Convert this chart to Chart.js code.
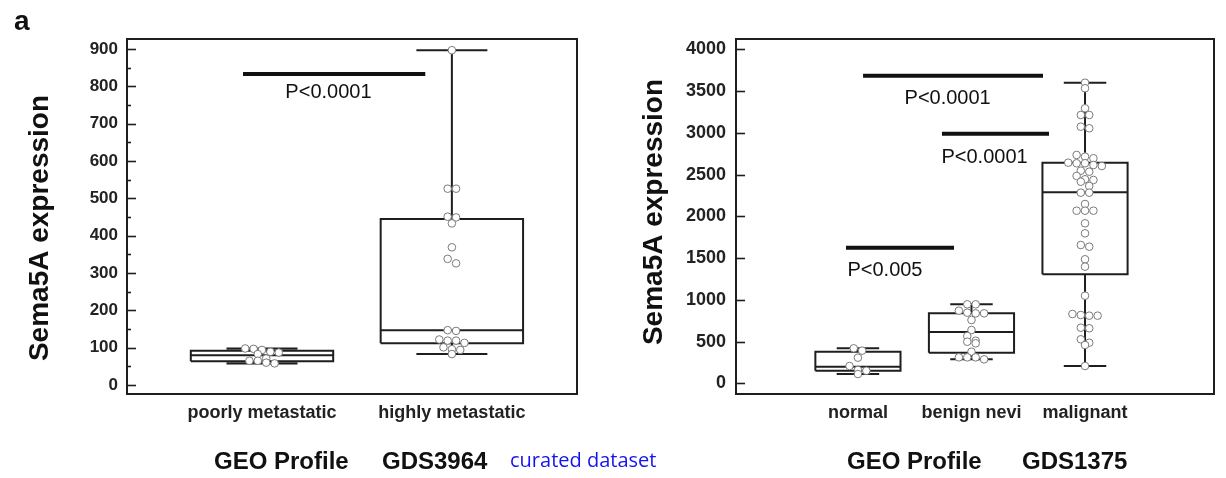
<!DOCTYPE html>
<html>
<head>
<meta charset="utf-8">
<script src="https://cdn.jsdelivr.net/npm/chart.js@4.4.1/dist/chart.umd.min.js"></script>
<style>
  html, body { margin: 0; padding: 0; background: #fff; }
  #wrap { position: relative; width: 1226px; height: 478px; overflow: hidden; }
  canvas { position: absolute; left: 0; top: 0; }
</style>
</head>
<body>
<div id="wrap">
  <canvas id="left" width="1226" height="478"></canvas>
  <canvas id="right" width="1226" height="478"></canvas>
</div>
<script>
// --- Daten links (GDS3964) ---
const leftCats = ["poorly metastatic", "highly metastatic"];
const poorlyValues = [98, 97, 94, 89, 87, 83, 71, 65, 65, 60, 58];
const highlyValues = [897, 526, 526, 451, 449, 433, 369, 338, 326, 147, 145, 122, 119, 119, 113, 101, 96, 94, 83];
const leftMin = [58, 83];
const leftQ1 = [64, 112];
const leftMedian = [80, 147];
const leftQ3 = [92, 445];
const leftMax = [98, 897];
const leftYTicks = [0, 100, 200, 300, 400, 500, 600, 700, 800, 900];
const leftYMinor = [50, 150, 250, 350, 450, 550, 650, 750, 850];
const leftSigFrom = [-0.10];
const leftSigTo = [0.86];
const leftSigY = [833];
const leftSigText = ["P<0.0001"];
const leftSigTextX = [0.35];
const leftSigTextY = [783];

// --- Daten rechts (GDS1375) ---
const rightCats = ["normal", "benign nevi", "malignant"];
const normalValues = [419, 391, 307, 207, 160, 150, 111];
const benignValues = [946, 946, 870, 846, 838, 838, 758, 638, 566, 510, 498, 479, 378, 311, 311, 311, 287];
const malignantValues = [3600, 3533, 3293, 3213, 3213, 3073, 3054, 2734, 2714, 2695, 2642, 2635, 2635, 2614, 2602,
  2546, 2534, 2483, 2443, 2435, 2414, 2363, 2283, 2283, 2147, 2067, 2067, 2067, 1916, 1796, 1656, 1636,
  1485, 1397, 1049, 830, 818, 810, 810, 666, 659, 527, 486, 459, 207];
const rightMin = [111, 287, 207];
const rightQ1 = [151, 367, 1305];
const rightMedian = [199, 614, 2287];
const rightQ3 = [377, 838, 2642];
const rightMax = [419, 946, 3600];
const rightYTicks = [0, 500, 1000, 1500, 2000, 2500, 3000, 3500, 4000];
const rightSigFrom = [0.045, 0.74, -0.105];
const rightSigTo = [1.63, 1.683, 0.846];
const rightSigY = [3684, 2989, 1624];
const rightSigText = ["P<0.0001", "P<0.0001", "P<0.005"];
const rightSigTextX = [0.79, 1.115, 0.238];
const rightSigTextY = [3405, 2710, 1357];

const FONT = 'Arial, "Liberation Sans", Helvetica, sans-serif';
const INK = "#1e1e1e";
const BOX_HALF = 0.375;   // halbe Boxbreite (x-Einheiten)
const CAP_HALF = 0.187;   // halbe Whisker-Kappe
const SWARM_STEP = 8.4;   // px zwischen Punkten einer Reihe
const SWARM_BIN = 5;      // px Höhe einer Reihe

Chart.defaults.font.family = FONT;

function boxPoints(min, q1, med, q3, max) {
  const pts = [];
  min.forEach((_, i) => {
    const gap = { x: i, y: null };
    pts.push(
      { x: i - BOX_HALF, y: q1[i] }, { x: i + BOX_HALF, y: q1[i] }, { x: i + BOX_HALF, y: q3[i] },
      { x: i - BOX_HALF, y: q3[i] }, { x: i - BOX_HALF, y: q1[i] }, gap,
      { x: i - BOX_HALF, y: med[i] }, { x: i + BOX_HALF, y: med[i] }, gap,
      { x: i, y: q3[i] }, { x: i, y: max[i] }, gap,
      { x: i - CAP_HALF, y: max[i] }, { x: i + CAP_HALF, y: max[i] }, gap,
      { x: i, y: q1[i] }, { x: i, y: min[i] }, gap,
      { x: i - CAP_HALF, y: min[i] }, { x: i + CAP_HALF, y: min[i] }, gap
    );
  });
  return pts;
}

function sigPoints(from, to, y) {
  const pts = [];
  from.forEach((f, i) => {
    pts.push({ x: f, y: y[i] }, { x: to[i], y: y[i] }, { x: f, y: null });
  });
  return pts;
}

// Beeswarm: Punkte mit ähnlicher Höhe nebeneinander zentriert
function swarm(chart, groups) {
  const xs = chart.scales.x, ys = chart.scales.y;
  groups.forEach((vals, gi) => {
    const cx = xs.getPixelForValue(gi);
    const pts = vals.map(v => ({ v, py: ys.getPixelForValue(v) })).sort((a, b) => a.py - b.py);
    const out = [];
    let bin = [];
    const flush = () => {
      bin.forEach((p, k) => {
        out.push({ x: xs.getValueForPixel(cx + (k - (bin.length - 1) / 2) * SWARM_STEP), y: p.v });
      });
      bin = [];
    };
    pts.forEach(p => {
      if (bin.length && p.py - bin[0].py > SWARM_BIN) flush();
      bin.push(p);
    });
    flush();
    chart.data.datasets[gi].data = out;
  });
  chart.update("none");
}

function panelPlugin(p) {
  return {
    id: "panel" + p.id,
    beforeDatasetsDraw(chart) {
      const { ctx, chartArea: a } = chart;
      const ys = chart.scales.y;
      ctx.save();
      ctx.strokeStyle = INK;
      ctx.lineWidth = 2;
      ctx.strokeRect(a.left, a.top, a.right - a.left, a.bottom - a.top);
      ctx.lineWidth = 1.6;
      const tick = (v, len) => {
        const y = Math.round(ys.getPixelForValue(v)) + 0.5;
        ctx.beginPath();
        ctx.moveTo(a.left, y);
        ctx.lineTo(a.left + len, y);
        ctx.stroke();
      };
      p.major.forEach(v => tick(v, 9));
      (p.minor || []).forEach(v => tick(v, 4));
      ctx.restore();
    },
    afterDraw(chart) {
      const { ctx } = chart;
      const xs = chart.scales.x, ys = chart.scales.y;
      ctx.save();
      ctx.fillStyle = "#111";
      ctx.textAlign = "center";
      ctx.textBaseline = "middle";
      ctx.font = "20px " + FONT;
      p.sigText.forEach((t, i) => {
        ctx.fillText(t, xs.getPixelForValue(p.sigTextX[i]), ys.getPixelForValue(p.sigTextY[i]));
      });
      // y-Achsentitel
      ctx.font = "bold 28px " + FONT;
      ctx.save();
      ctx.translate(p.titleX, p.titleY);
      ctx.rotate(-Math.PI / 2);
      ctx.fillText("Sema5A expression", 0, 0);
      ctx.restore();
      // Unterschriften
      ctx.textAlign = "left";
      ctx.textBaseline = "alphabetic";
      ctx.font = "bold 24px " + FONT;
      ctx.fillText("GEO Profile", p.geoX, 469);
      ctx.fillText(p.gds, p.gdsX, 469);
      if (p.extra) {
        ctx.fillStyle = "#1414ee";
        ctx.font = '20px "Open Sans", ' + FONT;
        ctx.fillText(p.extra, p.extraX, 467);
      }
      if (p.letter) {
        ctx.fillStyle = "#111";
        ctx.font = "bold 28px " + FONT;
        ctx.fillText(p.letter, 14, 30);
      }
      ctx.restore();
    }
  };
}

function makePanel(id, c) {
  const scatterSets = c.groups.map((vals, gi) => ({
    type: "scatter",
    data: vals.map(v => ({ x: gi, y: v })),
    pointRadius: 3.8,
    pointBorderWidth: 1,
    pointBorderColor: "#7a7a7a",
    pointBackgroundColor: "#fff",
    order: 0
  }));
  const lineSets = [
    {
      type: "line",
      data: boxPoints(c.min, c.q1, c.median, c.q3, c.max),
      borderColor: INK,
      borderWidth: 2,
      borderJoinStyle: "miter",
      pointRadius: 0,
      fill: false,
      tension: 0,
      spanGaps: false,
      order: 1
    },
    {
      type: "line",
      data: sigPoints(c.sigFrom, c.sigTo, c.sigY),
      borderColor: "#111",
      borderWidth: 4,
      pointRadius: 0,
      fill: false,
      tension: 0,
      spanGaps: false,
      order: 1
    }
  ];

  const chart = new Chart(document.getElementById(id), {
    type: "scatter",
    data: { datasets: [...scatterSets, ...lineSets] },
    options: {
      responsive: false,
      animation: false,
      events: [],
      layout: { padding: c.padding },
      plugins: { legend: { display: false }, tooltip: { enabled: false } },
      scales: {
        x: {
          type: "linear",
          min: c.xMin,
          max: c.xMax,
          grid: { display: false, drawTicks: false, tickLength: 0 },
          border: { display: false },
          afterFit: s => { s.height = 84; },
          afterBuildTicks: s => { s.ticks = c.cats.map((_, i) => ({ value: i })); },
          ticks: {
            autoSkip: false,
            maxRotation: 0,
            padding: 8,
            color: "#222",
            font: { size: 18, weight: "bold" },
            callback: v => c.cats[v] ?? ""
          }
        },
        y: {
          type: "linear",
          min: c.yMin,
          max: c.yMax,
          grid: { display: false, drawTicks: false, tickLength: 0 },
          border: { display: false },
          afterFit: s => { s.width = c.yWidth; },
          afterBuildTicks: s => { s.ticks = c.yTicks.map(v => ({ value: v })); },
          ticks: {
            padding: c.yPad,
            color: "#222",
            font: { size: c.yFont, weight: "bold" },
            callback: v => `${v}`
          }
        }
      }
    },
    plugins: [panelPlugin(c.plugin)]
  });
  swarm(chart, c.groups);
  return chart;
}

makePanel("left", {
  cats: leftCats,
  groups: [poorlyValues, highlyValues],
  min: leftMin, q1: leftQ1, median: leftMedian, q3: leftQ3, max: leftMax,
  sigFrom: leftSigFrom, sigTo: leftSigTo, sigY: leftSigY,
  xMin: -0.711, xMax: 1.659, yMin: -24, yMax: 927,
  yTicks: leftYTicks, yWidth: 127, yPad: 9, yFont: 17,
  padding: { left: 0, top: 39, right: 649, bottom: 0 },
  plugin: {
    id: "L", major: leftYTicks, minor: leftYMinor,
    sigText: leftSigText, sigTextX: leftSigTextX, sigTextY: leftSigTextY,
    titleX: 40, titleY: 228,
    geoX: 214, gds: "GDS3964", gdsX: 382,
    extra: "curated dataset", extraX: 510,
    letter: "a"
  }
});

makePanel("right", {
  cats: rightCats,
  groups: [normalValues, benignValues, malignantValues],
  min: rightMin, q1: rightQ1, median: rightMedian, q3: rightQ3, max: rightMax,
  sigFrom: rightSigFrom, sigTo: rightSigTo, sigY: rightSigY,
  xMin: -1.074, xMax: 3.136, yMin: -128, yMax: 4123,
  yTicks: rightYTicks, yWidth: 126, yPad: 10, yFont: 18,
  padding: { left: 610, top: 39, right: 12, bottom: 0 },
  plugin: {
    id: "R", major: rightYTicks,
    sigText: rightSigText, sigTextX: rightSigTextX, sigTextY: rightSigTextY,
    titleX: 654, titleY: 212,
    geoX: 847, gds: "GDS1375", gdsX: 1022
  }
});
</script>
</body>
</html>
